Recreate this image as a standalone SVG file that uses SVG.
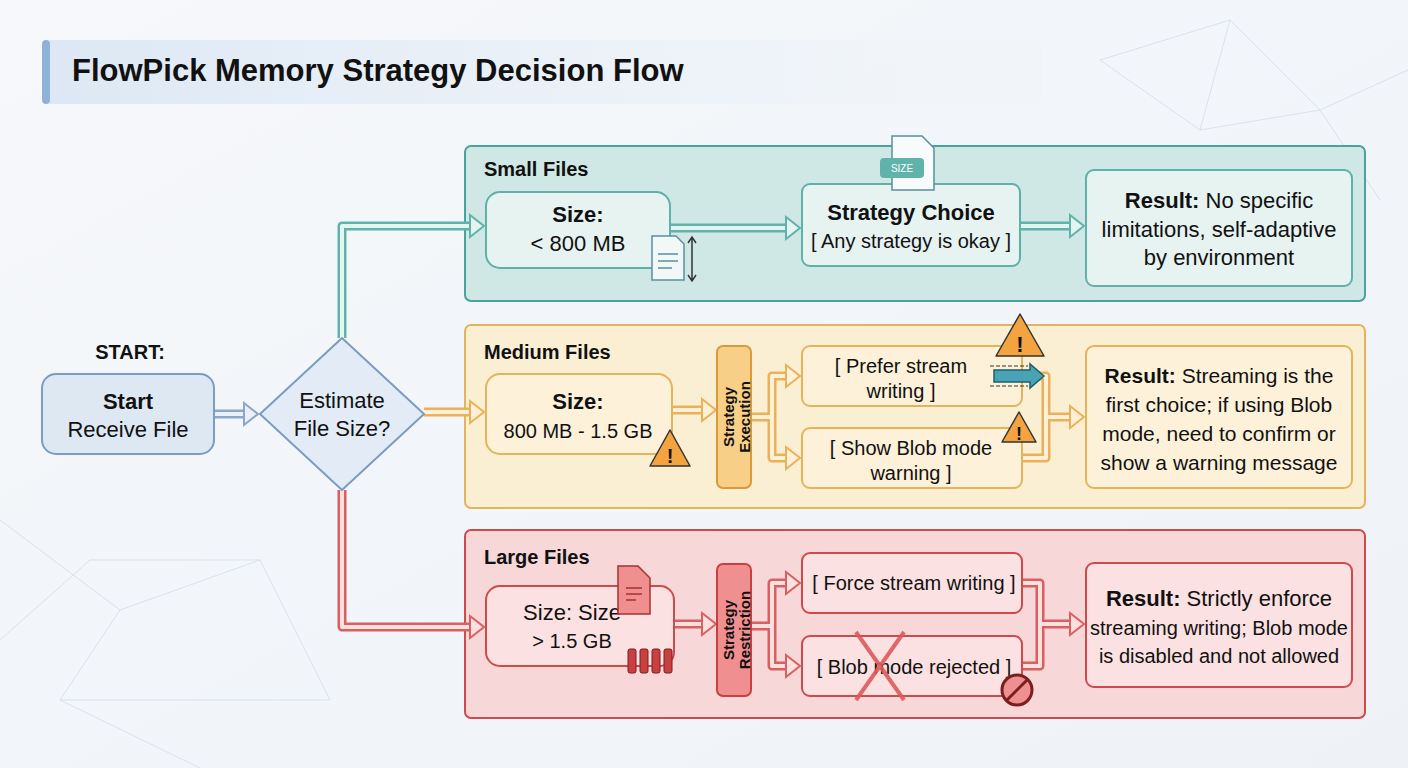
<svg xmlns="http://www.w3.org/2000/svg" width="1408" height="768" viewBox="0 0 1408 768">
<defs>
<linearGradient id="bg" x1="0" y1="0" x2="1" y2="1"><stop offset="0" stop-color="#f6f8fb"/><stop offset="1" stop-color="#eef2f7"/></linearGradient>
<linearGradient id="tb" x1="0" y1="0" x2="1" y2="0"><stop offset="0" stop-color="#dde8f4"/><stop offset="1" stop-color="#eef3f9" stop-opacity="0.3"/></linearGradient>
<style>
text{font-family:"Liberation Sans",Arial,sans-serif;fill:#111;}
.t{font-size:22px;text-anchor:middle}
.b{font-weight:bold}
.h{font-size:20px;font-weight:bold}
.v{font-size:15px;font-weight:bold;text-anchor:middle}
.o{fill:none;stroke-linejoin:round;stroke-width:9}
.i{fill:none;stroke-linejoin:round;stroke-width:4}
.tl .o,.tl polygon{stroke:#5fb3aa}.tl .i{stroke:#e4f4f1}.tl polygon{fill:#e4f4f1;stroke-width:2}
.or .o,.or polygon{stroke:#e9b25a}.or .i{stroke:#fdf0d6}.or polygon{fill:#fdf0d6;stroke-width:2}
.rd .o,.rd polygon{stroke:#d96060}.rd .i{stroke:#fbe0e0}.rd polygon{fill:#fbe0e0;stroke-width:2}
.bl .o,.bl polygon{stroke:#8aa6c8}.bl .i{stroke:#eaf0f7}.bl polygon{fill:#eaf0f7;stroke-width:2}
</style>
</defs>
<rect width="1408" height="768" fill="url(#bg)"/>
<g stroke="#d5dde8" stroke-width="1" fill="none" opacity="0.8">
<path d="M0 520 L120 610 L60 700 L200 768 M120 610 L260 560 L330 700 M0 640 L90 560 L260 560 M60 700 L330 700"/>
<path d="M1100 60 L1230 20 L1320 110 L1408 70 M1230 20 L1200 130 L1320 110 M1320 110 L1380 200 M1200 130 L1100 60"/>
</g>
<g id="title">
<rect x="42" y="40" width="1000" height="64" rx="8" fill="url(#tb)"/>
<rect x="42" y="40" width="8" height="64" rx="4" fill="#8fb2d8"/>
<text x="72" y="81" class="b" style="font-size:31px">FlowPick Memory Strategy Decision Flow</text>
</g>
<g id="panel-small"><rect x="465" y="146" width="900" height="155" rx="6" fill="#cfe8e5" stroke="#4aa39a" stroke-width="2"/><text x="484" y="176" class="h">Small Files</text></g>
<g id="panel-medium"><rect x="465" y="325" width="900" height="183" rx="6" fill="#fbefd3" stroke="#e4b45a" stroke-width="2"/><text x="484" y="359" class="h">Medium Files</text></g>
<g id="panel-large"><rect x="465" y="530" width="900" height="188" rx="6" fill="#f7d7d7" stroke="#cf4b4b" stroke-width="2"/><text x="484" y="564" class="h">Large Files</text></g>

<g id="connectors">
<g class="bl"><path class="o" d="M214 414 H246"/><path class="i" d="M214 414 H246"/><polygon points="244,403 258,414 244,425"/></g>
<g class="tl">
<path class="o" d="M342 338 V226 H470"/><path class="i" d="M342 338 V226 H470"/><polygon points="470,215 484,226 470,237"/>
<path class="o" d="M670 228 H786"/><path class="i" d="M670 228 H786"/><polygon points="786,217 800,228 786,239"/>
<path class="o" d="M1020 226 H1070"/><path class="i" d="M1020 226 H1070"/><polygon points="1070,215 1084,226 1070,237"/>
</g>
<g class="or">
<path class="o" d="M424 412 H470"/><path class="i" d="M424 412 H470"/><polygon points="470,401 484,412 470,423"/>
<path class="o" d="M672 410 H702"/><path class="i" d="M672 410 H702"/><polygon points="702,399 716,410 702,421"/>
<path class="o" d="M751 417 H772 M786 376 H772 V458 H786"/><path class="i" d="M751 417 H772 M786 376 H772 V458 H786"/>
<polygon points="786,365 800,376 786,387"/><polygon points="786,447 800,458 786,469"/>
<path class="o" d="M1022 376 H1046 V458 H1022 M1046 417 H1070"/><path class="i" d="M1022 376 H1046 V458 H1022 M1046 417 H1070"/>
<polygon points="1070,406 1084,417 1070,428"/>
</g>
<g class="rd">
<path class="o" d="M342 490 V627 H470"/><path class="i" d="M342 490 V627 H470"/><polygon points="470,616 484,627 470,638"/>
<path class="o" d="M674 624 H702"/><path class="i" d="M674 624 H702"/><polygon points="702,613 716,624 702,635"/>
<path class="o" d="M751 626 H772 M786 583 H772 V666 H786"/><path class="i" d="M751 626 H772 M786 583 H772 V666 H786"/>
<polygon points="786,572 800,583 786,594"/><polygon points="786,655 800,666 786,677"/>
<path class="o" d="M1022 583 H1040 V666 H1022 M1040 624 H1070"/><path class="i" d="M1022 583 H1040 V666 H1022 M1040 624 H1070"/>
<polygon points="1070,613 1084,624 1070,635"/>
</g>
</g>

<g id="start-label"><text x="130" y="359" class="t b" style="font-size:20px">START:</text></g>
<g id="start"><rect x="42" y="374" width="172" height="80" rx="14" fill="#dde8f3" stroke="#7d9cc0" stroke-width="2"/><text x="128" y="409" class="t b">Start</text><text x="128" y="437" class="t">Receive File</text></g>
<g id="decision"><polygon points="342,338 424,414 342,490 260,414" fill="#e3ecf6" stroke="#7d9cc0" stroke-width="2" stroke-linejoin="round"/><text x="342" y="408" class="t">Estimate</text><text x="342" y="436" class="t">File Size?</text></g>

<g id="small-size"><rect x="486" y="192" width="184" height="76" rx="14" fill="#e6f3f1" stroke="#5fb0a6" stroke-width="2"/><text x="578" y="222" class="t b">Size:</text><text x="578" y="251" class="t">&lt; 800 MB</text>
<path d="M652 236 H676 L684 244 V280 H652 Z" fill="#f2f8f8" stroke="#5a8fa0" stroke-width="1.5"/><path d="M658 254 H678 M658 261 H678 M658 268 H672" stroke="#5a8fa0" stroke-width="1.5"/>
<path d="M692 238 V280 M688 243 L692 237 L696 243 M688 275 L692 281 L696 275" stroke="#333" stroke-width="1.5" fill="none"/></g>
<g id="small-choice"><rect x="802" y="184" width="218" height="82" rx="8" fill="#e6f3f1" stroke="#5fb0a6" stroke-width="2"/><text x="911" y="220" class="t b">Strategy Choice</text><text x="911" y="248" class="t" style="font-size:20px">[ Any strategy is okay ]</text>
<path d="M892 136 H922 L934 148 V190 H892 Z" fill="#f7fbfb" stroke="#5a8fa0" stroke-width="1.5"/><rect x="880" y="158" width="44" height="20" rx="4" fill="#5fb3aa"/><text x="902" y="172" style="font-size:10px;fill:#fff;text-anchor:middle">SIZE</text></g>
<g id="small-result"><rect x="1086" y="170" width="266" height="116" rx="8" fill="#e6f3f1" stroke="#5fb0a6" stroke-width="2"/><text x="1219" y="208" class="t"><tspan class="b">Result:</tspan> No specific</text><text x="1219" y="237" class="t">limitations, self-adaptive</text><text x="1219" y="265" class="t">by environment</text></g>

<g id="medium-size"><rect x="486" y="374" width="186" height="80" rx="14" fill="#fdf1d9" stroke="#e4b45a" stroke-width="2"/><text x="578" y="409" class="t b">Size:</text><text x="578" y="438" class="t" style="font-size:20px">800 MB - 1.5 GB</text>
<polygon points="670,430 690,466 650,466" fill="#f3a441" stroke="#333" stroke-width="1.5" stroke-linejoin="round"/><text x="670" y="463" class="t b" style="font-size:20px">!</text></g>
<g id="medium-exec"><rect x="717" y="346" width="34" height="142" rx="6" fill="#f8cf86" stroke="#d89a3b" stroke-width="2"/><text transform="translate(734,417) rotate(-90)" class="v">Strategy</text><text transform="translate(750,417) rotate(-90)" class="v">Execution</text></g>
<g id="medium-prefer"><rect x="802" y="346" width="220" height="60" rx="8" fill="#fdf1d9" stroke="#e4b45a" stroke-width="2"/><text x="901" y="373" class="t" style="font-size:20px">[ Prefer stream</text><text x="901" y="398" class="t" style="font-size:20px">writing ]</text>
<polygon points="1020,314 1044,356 996,356" fill="#f3a441" stroke="#333" stroke-width="1.5" stroke-linejoin="round"/><text x="1020" y="352" class="t b">!</text>
<path d="M994 370 H1030 V364 L1044 376 L1030 388 V382 H994 Z" fill="#4aa3b5" stroke="#1d5f6e" stroke-width="1.5"/><path d="M990 366 H1028 M990 386 H1028" stroke="#333" stroke-width="1" stroke-dasharray="4 2"/></g>
<g id="medium-warn"><rect x="802" y="428" width="220" height="60" rx="8" fill="#fdf1d9" stroke="#e4b45a" stroke-width="2"/><text x="911" y="455" class="t" style="font-size:20px">[ Show Blob mode</text><text x="911" y="480" class="t" style="font-size:20px">warning ]</text>
<polygon points="1019,412 1036,442 1002,442" fill="#f3a441" stroke="#333" stroke-width="1.5" stroke-linejoin="round"/><text x="1019" y="440" class="t b" style="font-size:18px">!</text></g>
<g id="medium-result"><rect x="1086" y="346" width="266" height="142" rx="8" fill="#fdf1d9" stroke="#e4b45a" stroke-width="2"/><text x="1219" y="383" class="t" style="font-size:21px"><tspan class="b">Result:</tspan> Streaming is the</text><text x="1219" y="412" class="t" style="font-size:21px">first choice; if using Blob</text><text x="1219" y="441" class="t" style="font-size:21px">mode, need to confirm or</text><text x="1219" y="470" class="t" style="font-size:21px">show a warning message</text></g>

<g id="large-size"><rect x="486" y="586" width="188" height="80" rx="14" fill="#fbe1e1" stroke="#cf4b4b" stroke-width="2"/><text x="572" y="620" class="t">Size: Size</text><text x="572" y="648" class="t" style="font-size:20px">&gt; 1.5 GB</text>
<path d="M618 566 H638 L650 578 V614 H618 Z" fill="#f08f8f" stroke="#a83232" stroke-width="1.5"/><path d="M626 588 H642 M626 594 H642 M626 600 H636" stroke="#a83232" stroke-width="1.5"/>
<g fill="#c94040" stroke="#7a1f1f" stroke-width="1"><rect x="628" y="649" width="8" height="24" rx="2"/><rect x="640" y="649" width="8" height="24" rx="2"/><rect x="652" y="649" width="8" height="24" rx="2"/><rect x="664" y="649" width="8" height="24" rx="2"/></g></g>
<g id="large-restrict"><rect x="717" y="564" width="34" height="132" rx="6" fill="#f08f8f" stroke="#c94040" stroke-width="2"/><text transform="translate(734,630) rotate(-90)" class="v">Strategy</text><text transform="translate(750,630) rotate(-90)" class="v">Restriction</text></g>
<g id="large-force"><rect x="802" y="553" width="220" height="60" rx="8" fill="#fbe1e1" stroke="#cf4b4b" stroke-width="2"/><text x="914" y="590" class="t" style="font-size:20px">[ Force stream writing ]</text></g>
<g id="large-blob"><rect x="802" y="636" width="220" height="60" rx="8" fill="#fbe1e1" stroke="#cf4b4b" stroke-width="2"/><text x="914" y="674" class="t" style="font-size:20px">[ Blob mode rejected ]</text>
<path d="M856 632 L904 700 M904 632 L856 700" stroke="#dd5a5a" stroke-width="4" opacity="0.9"/>
<circle cx="1017" cy="690" r="15" fill="#f08f8f" stroke="#7a1f1f" stroke-width="3"/><path d="M1007 700 L1027 680" stroke="#7a1f1f" stroke-width="3"/></g>
<g id="large-result"><rect x="1086" y="563" width="266" height="124" rx="8" fill="#fbe1e1" stroke="#cf4b4b" stroke-width="2"/><text x="1219" y="606" class="t"><tspan class="b">Result:</tspan> Strictly enforce</text><text x="1219" y="635" class="t" style="font-size:20px">streaming writing; Blob mode</text><text x="1219" y="663" class="t" style="font-size:20px">is disabled and not allowed</text></g>
</svg>
